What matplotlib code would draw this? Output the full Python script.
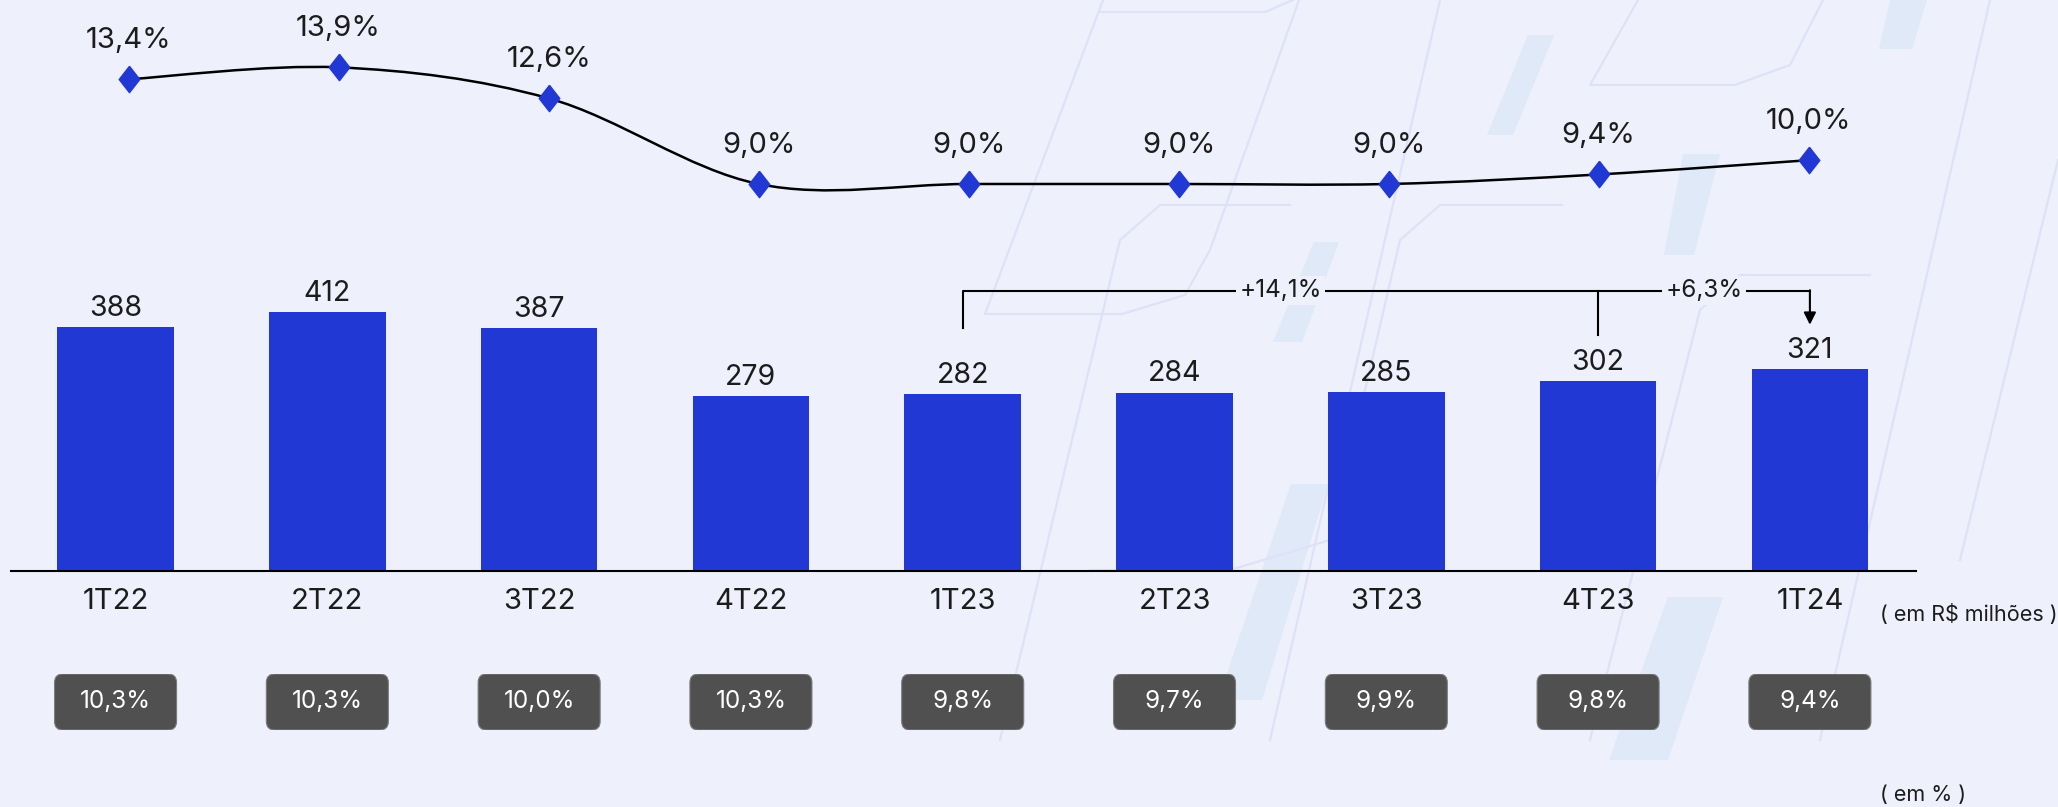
import matplotlib
matplotlib.use('Agg')
import matplotlib.pyplot as plt
from matplotlib.patches import FancyBboxPatch, PathPatch, Polygon
from matplotlib.lines import Line2D
from matplotlib.path import Path

quarters = ['1T22', '2T22', '3T22', '4T22', '1T23', '2T23', '3T23', '4T23', '1T24']
revenue = [388, 412, 387, 279, 282, 284, 285, 302, 321]
margin = [13.4, 13.9, 12.6, 9.0, 9.0, 9.0, 9.0, 9.4, 10.0]
share = [10.3, 10.3, 10.0, 10.3, 9.8, 9.7, 9.9, 9.8, 9.4]
growth_labels = ['+14,1%', '+6,3%']

BG = '#EEF0FB'
BLUE = '#2238D4'
PILL = '#505050'
INK = '#1c1c1c'

W, H = 2058, 807

plt.rcParams['font.family'] = ['Inter', 'DejaVu Sans']

# faint background watermark (pixel coords, top-left origin)
strips = [
    [(1528, 35), (1554, 35), (1513, 135), (1487, 135)],
    [(1683, 154), (1720, 154), (1694, 255), (1664, 255)],
    [(1314, 242), (1339, 242), (1302, 342), (1273, 342)],
    [(1291, 484), (1328, 484), (1262, 700), (1218, 700)],
    [(1668, 597), (1723, 597), (1668, 760), (1609, 760)],
    [(1890, 0), (1927, 0), (1912, 49), (1879, 49)],
]
outlines = [
    [(1103, 0), (985, 314), (1122, 314), (1185, 295), (1210, 250), (1299, 0)],
    [(1638, 0), (1590, 85), (1735, 85), (1790, 65), (1823, 0)],
    [(1293, 0), (1265, 12), (1100, 12)],
    [(1290, 205), (1160, 205), (1120, 240), (1000, 740)],
    [(1562, 205), (1440, 205), (1400, 240), (1330, 540), (1230, 570), (1090, 570)],
    [(1870, 275), (1740, 275), (1700, 310), (1590, 740)],
    [(1990, 0), (1820, 740)],
    [(2058, 160), (1960, 560)],
    [(1440, 0), (1270, 740)],
]


def pct(v):
    return f'{v:.1f}'.replace('.', ',') + '%'


def smooth_path(xs, ys):
    # catmull-rom through the points, drawn as cubic bezier segments
    pts = list(zip(xs, ys))
    verts = [pts[0]]
    codes = [Path.MOVETO]
    n = len(pts)
    for i in range(n - 1):
        p0 = pts[max(i - 1, 0)]
        p1 = pts[i]
        p2 = pts[i + 1]
        p3 = pts[min(i + 2, n - 1)]
        c1 = (p1[0] + (p2[0] - p0[0]) / 6, p1[1] + (p2[1] - p0[1]) / 6)
        c2 = (p2[0] - (p3[0] - p1[0]) / 6, p2[1] - (p3[1] - p1[1]) / 6)
        verts += [c1, c2, p2]
        codes += [Path.CURVE4] * 3
    return Path(verts, codes)


def to_fig(pts):
    return [(px / W, 1 - py / H) for px, py in pts]


def draw_background(fig):
    for s in strips:
        fig.add_artist(Polygon(to_fig(s), closed=True, fc='#DFE9F8', ec='none', zorder=-2))
    for o in outlines:
        xs, ys = zip(*to_fig(o))
        fig.add_artist(Line2D(xs, ys, color='#DFE2F6', lw=1.6, zorder=-2))


def main():
    fig = plt.figure(figsize=(W / 100, H / 100), dpi=100)
    fig.patch.set_facecolor(BG)
    draw_background(fig)

    x = list(range(len(quarters)))
    rect = [10.5 / W, (H - 571) / H, 1905.5 / W, 571 / H]

    # bars
    ax = fig.add_axes(rect)
    ax.set_xlim(-0.496, 8.501)
    ax.set_ylim(0, 909)
    ax.patch.set_alpha(0)
    for s in ['top', 'right', 'left']:
        ax.spines[s].set_visible(False)
    ax.spines['bottom'].set_color('black')
    ax.spines['bottom'].set_linewidth(1.5)
    ax.set_yticks([])
    ax.set_xticks(x)
    ax.set_xticklabels(quarters, fontsize=21, color=INK)
    ax.tick_params(axis='x', length=0, pad=12)

    ax.bar(x, revenue, width=0.55, color=BLUE, zorder=2)
    for xi, v in zip(x, revenue):
        ax.annotate(str(v), (xi, v), xytext=(0, 8), textcoords='offset points',
                    ha='center', va='baseline', fontsize=20.5, color=INK)

    # growth bracket
    top = 446
    ax.plot([4, 4, 8], [387, top, top], color='black', lw=1.5, zorder=3)
    ax.plot([7, 7], [top, 376], color='black', lw=1.5, zorder=3)
    ax.annotate('', xy=(8, 392), xytext=(8, top + 1),
                arrowprops=dict(arrowstyle='-|>', color='black', lw=1.5,
                                mutation_scale=18, shrinkA=0, shrinkB=0))
    for xm, lab in zip([5.5, 7.5], growth_labels):
        ax.text(xm, top, lab, ha='center', va='center', fontsize=17.5, color=INK,
                bbox=dict(boxstyle='square,pad=0.12', fc=BG, ec='none'), zorder=4)

    # margin line (its points sit on a slightly narrower grid than the bars)
    lax = fig.add_axes(rect)
    lax.set_xlim(-0.5624, 8.5114)
    lax.set_ylim(-7.26, 16.73)
    lax.patch.set_alpha(0)
    lax.axis('off')
    lax.add_patch(PathPatch(smooth_path(x, margin), fill=False, ec='black', lw=1.8, zorder=2))
    diamond = [(0, 1), (0.78, 0), (0, -1), (-0.78, 0), (0, 1)]
    lax.plot(x, margin, linestyle='none', marker=diamond, markersize=19,
             color=BLUE, zorder=3)
    for xi, v in zip(x, margin):
        lax.annotate(pct(v), (xi, v), xytext=(0, 28), textcoords='offset points',
                     ha='center', va='center', fontsize=21, color=INK)

    # share pills
    pax = fig.add_axes([10.5 / W, (H - 730) / H, 1905.5 / W, 56 / H])
    pax.set_xlim(-0.496, 8.501)
    pax.set_ylim(0, 1)
    pax.patch.set_alpha(0)
    pax.axis('off')
    for xi, v in zip(x, share):
        pax.add_patch(FancyBboxPatch((xi - 0.288, 0), 0.576, 1,
                                     boxstyle='round,pad=0,rounding_size=0.04',
                                     mutation_aspect=211.8 / 56,
                                     fc=PILL, ec='#7a7a7a', lw=0.8))
        pax.text(xi, 0.5, pct(v), ha='center', va='center', fontsize=17.5, color='white')

    fig.text(1880 / W, 1 - 614 / H, '( em R$ milhões )', ha='left', va='center',
             fontsize=15.5, color=INK)
    fig.text(1880 / W, 1 - 795 / H, '( em % )', ha='left', va='center',
             fontsize=15.5, color=INK)

    fig.savefig('out.png', dpi=100, facecolor=BG)


if __name__ == '__main__':
    main()
